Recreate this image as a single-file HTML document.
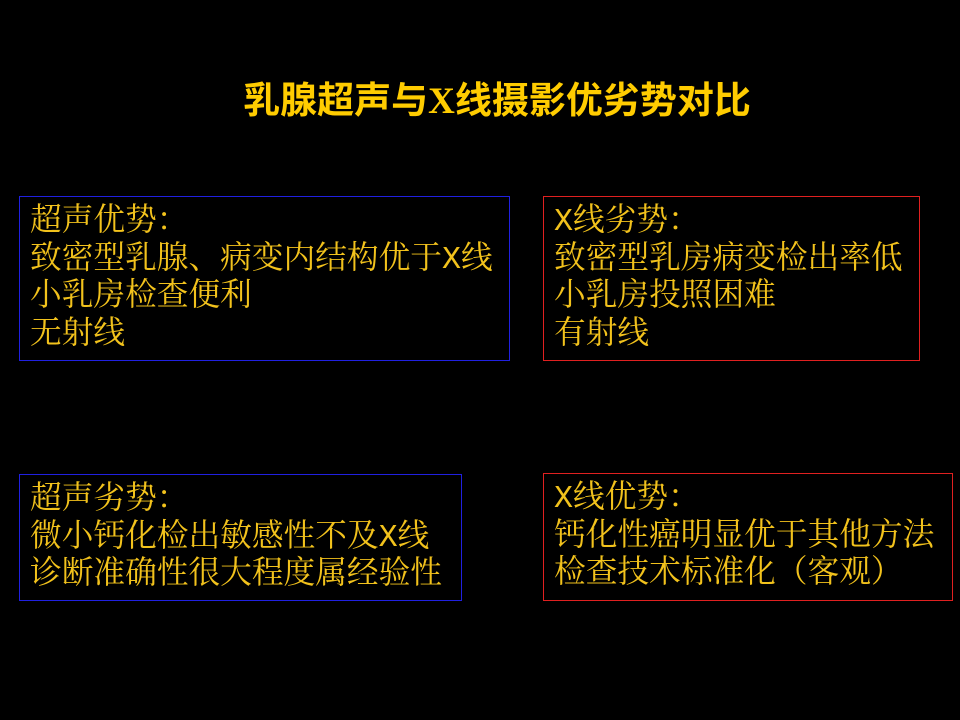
<!DOCTYPE html>
<html><head><meta charset="utf-8"><style>
body{margin:0;width:960px;height:720px;background:#000;position:relative;overflow:hidden}
.t{position:absolute;left:0;width:994px;top:80px;text-align:center;color:#FFCC00;font:bold 37px "Liberation Serif","Noto Sans CJK SC",sans-serif;line-height:44px}
.b{position:absolute;box-sizing:border-box;padding:7px 0 0 10px;color:#F2C21C;font:31.7px "Liberation Mono","Noto Serif CJK SC",serif;line-height:37.5px;white-space:nowrap}
.bl{border:1px solid #2020E0}.rd{border:1px solid #E02020}
</style></head><body>
<div class="t">乳腺超声与X线摄影优劣势对比</div>
<div class="b bl" style="left:19px;top:196px;width:491px;height:165px">超声优势：<br>致密型乳腺、病变内结构优于X线<br>小乳房检查便利<br>无射线</div>
<div class="b rd" style="left:543px;top:196px;width:377px;height:165px">X线劣势：<br>致密型乳房病变检出率低<br>小乳房投照困难<br>有射线</div>
<div class="b bl" style="left:19px;top:474px;width:443px;height:127px">超声劣势：<br>微小钙化检出敏感性不及X线<br>诊断准确性很大程度属经验性</div>
<div class="b rd" style="left:543px;top:473px;width:410px;height:128px">X线优势：<br>钙化性癌明显优于其他方法<br>检查技术标准化（客观）</div>
</body></html>
